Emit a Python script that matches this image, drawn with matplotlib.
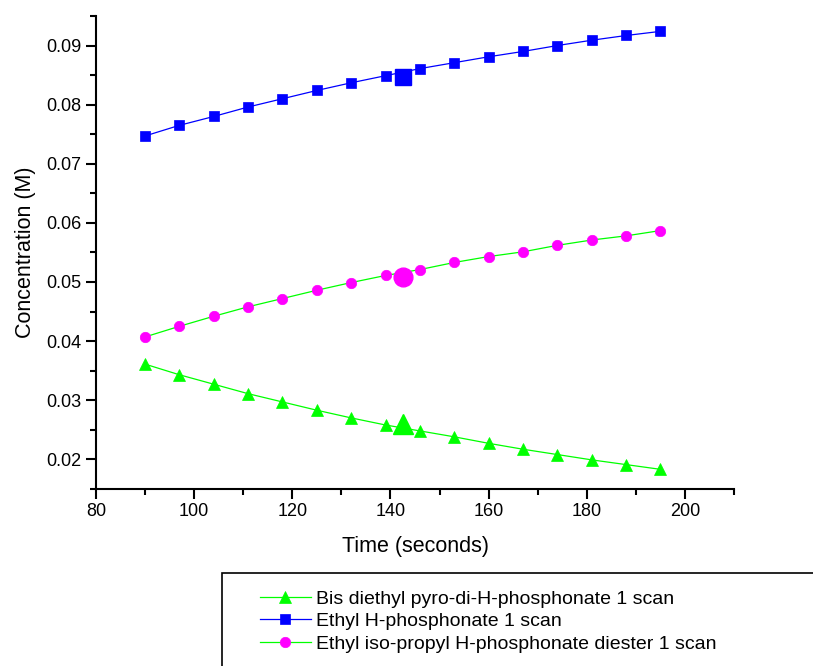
import matplotlib.pyplot as plt
from matplotlib.patches import Rectangle
from matplotlib.ticker import MultipleLocator

plt.rcParams['font.family'] = ['Liberation Sans', 'DejaVu Sans']

# scan times (seconds)
time_s = [90, 97, 104, 111, 118, 125, 132, 139, 146, 153, 160, 167, 174, 181, 188, 195]

# concentrations (M)
bis_diethyl = [0.0361, 0.0343, 0.0327, 0.0311, 0.0297, 0.0283, 0.0270, 0.0258,
               0.0248, 0.0238, 0.0227, 0.0217, 0.0208, 0.0199, 0.0191, 0.0183]
ethyl_h = [0.0747, 0.0765, 0.0780, 0.0796, 0.0810, 0.0824, 0.0837, 0.0849,
           0.0861, 0.0871, 0.0881, 0.0890, 0.0900, 0.0909, 0.0917, 0.0924]
ethyl_iso = [0.0407, 0.0425, 0.0442, 0.0458, 0.0472, 0.0486, 0.0499, 0.0511,
             0.0521, 0.0533, 0.0543, 0.0551, 0.0562, 0.0571, 0.0578, 0.0587]

# single highlighted point per series
mid_time = 142.5
mid_bis = 0.0260
mid_ethyl_h = 0.0847
mid_ethyl_iso = 0.0509

labels = ['Bis diethyl pyro-di-H-phosphonate 1 scan',
          'Ethyl H-phosphonate 1 scan',
          'Ethyl iso-propyl H-phosphonate diester 1 scan']

fig = plt.figure(figsize=(8.13, 6.66), dpi=100)
ax = fig.add_axes([0.118, 0.266, 0.785, 0.71])

ax.plot(time_s, bis_diethyl, color='#00ff00', lw=0.9, marker='^', ms=8.5,
        mfc='#00ff00', mec='#00ff00', mew=0.5, label=labels[0])
ax.plot(time_s, ethyl_h, color='#0000ff', lw=0.9, marker='s', ms=7,
        mfc='#0000ff', mec='#0000ff', mew=0.5, label=labels[1])
ax.plot(time_s, ethyl_iso, color='#00ff00', lw=0.9, marker='o', ms=7.5,
        mfc='#ff00ff', mec='#ff00ff', mew=0.5, label=labels[2])

ax.plot([mid_time], [mid_bis], ls='none', marker='^', ms=15, color='#00ff00')
ax.plot([mid_time], [mid_ethyl_h], ls='none', marker='s', ms=12, color='#0000ff')
ax.plot([mid_time], [mid_ethyl_iso], ls='none', marker='o', ms=13.5, color='#ff00ff')

ax.set_xlim(80, 210)
ax.set_ylim(0.015, 0.095)
ax.xaxis.set_minor_locator(MultipleLocator(10))
ax.yaxis.set_minor_locator(MultipleLocator(0.005))
ax.set_xticks([80, 100, 120, 140, 160, 180, 200])
ax.set_yticks([0.02, 0.03, 0.04, 0.05, 0.06, 0.07, 0.08, 0.09])
ax.set_yticklabels(['0.02', '0.03', '0.04', '0.05', '0.06', '0.07', '0.08', '0.09'])

for side in ['top', 'right']:
    ax.spines[side].set_visible(False)
for side in ['left', 'bottom']:
    ax.spines[side].set_linewidth(1.5)

ax.tick_params(which='major', direction='out', length=7.5, width=1.5, labelsize=13, pad=3)
ax.tick_params(which='minor', direction='out', length=4.2, width=1.5)

ax.set_xlabel('Time (seconds)', fontsize=15.5, labelpad=11)
ax.set_ylabel('Concentration (M)', fontsize=15.5, labelpad=7)

# legend frame runs off the figure edge
fig.patches.append(Rectangle((222 / 813, -0.1), 0.8, 1 - 573 / 666 + 0.1,
                             transform=fig.transFigure, fill=False,
                             edgecolor='black', lw=1.2))
fig.legend(loc='upper left', bbox_to_anchor=(260 / 813, 1 - 590 / 666),
           frameon=False, fontsize=14, handlelength=2.6, handletextpad=0.3,
           labelspacing=0.25, borderpad=0, borderaxespad=0)

fig.savefig('out.png', dpi=100)
